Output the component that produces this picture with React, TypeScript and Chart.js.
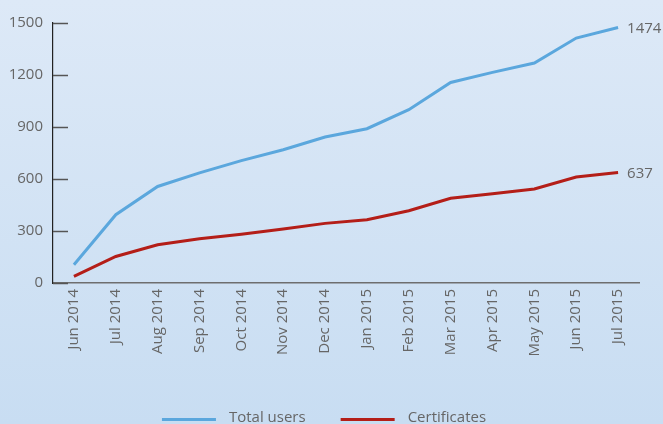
import React, { useEffect, useRef } from "react";
import { Chart, registerables } from "chart.js";

Chart.register(...registerables);

const categories = [
  "Jun 2014", "Jul 2014", "Aug 2014", "Sep 2014", "Oct 2014", "Nov 2014", "Dec 2014",
  "Jan 2015", "Feb 2015", "Mar 2015", "Apr 2015", "May 2015", "Jun 2015", "Jul 2015",
];
const totalUsers = [105, 394, 557, 635, 706, 769, 842, 890, 1000, 1157, 1215, 1269, 1413, 1474];
const certificates = [38, 153, 221, 255, 281, 311, 344, 365, 417, 489, 515, 542, 611, 637];
const seriesNames = ["Total users", "Certificates"];
const yTicks = [0, 300, 600, 900, 1200, 1500];

const FONT = "'Open Sans', 'Noto Sans', sans-serif";
const TEXT = "#666666";

const bgPlugin = {
  id: "bgGradient",
  beforeDraw(chart: any) {
    const { ctx, width, height } = chart;
    const g = ctx.createLinearGradient(0, 0, 0, height);
    g.addColorStop(0, "#dde9f7");
    g.addColorStop(1, "#c8ddf2");
    ctx.save();
    ctx.fillStyle = g;
    ctx.fillRect(0, 0, width, height);
    ctx.restore();
  },
};

const innerTicksPlugin = {
  id: "innerTicks",
  afterDraw(chart: any) {
    const { ctx, chartArea } = chart;
    const y = chart.scales.y;
    ctx.save();
    ctx.strokeStyle = "#555555";
    ctx.lineWidth = 1.5;
    y.ticks.forEach((t: any) => {
      const py = Math.round(y.getPixelForValue(t.value)) + 0.5;
      ctx.beginPath();
      ctx.moveTo(chartArea.left, py);
      ctx.lineTo(chartArea.left + 15, py);
      ctx.stroke();
    });
    ctx.restore();
  },
};

const endLabelsPlugin = {
  id: "endLabels",
  afterDatasetsDraw(chart: any) {
    const { ctx } = chart;
    ctx.save();
    ctx.font = `15px ${FONT}`;
    ctx.fillStyle = TEXT;
    ctx.textAlign = "left";
    ctx.textBaseline = "middle";
    chart.data.datasets.forEach((ds: any, i: number) => {
      const meta = chart.getDatasetMeta(i);
      const last = meta.data[meta.data.length - 1];
      const val = ds.data[ds.data.length - 1];
      ctx.fillText(String(val), last.x + 9, last.y + 1);
    });
    ctx.restore();
  },
};

const bottomLegendPlugin = {
  id: "bottomLegend",
  afterDraw(chart: any) {
    const { ctx } = chart;
    ctx.save();
    ctx.font = `15px ${FONT}`;
    const lineW = 54;
    const gap = 13;
    const itemGap = 35;
    const items = chart.data.datasets.map((ds: any) => ({
      label: ds.label,
      color: ds.borderColor,
      w: lineW + gap + ctx.measureText(ds.label).width,
    }));
    const total = items.reduce((a: number, b: any) => a + b.w, 0) + itemGap * (items.length - 1);
    let x = 324 - total / 2;
    const ly = 419.5;
    items.forEach((it: any) => {
      ctx.fillStyle = it.color;
      ctx.fillRect(x, ly - 1.5, lineW, 3);
      ctx.fillStyle = TEXT;
      ctx.textAlign = "left";
      ctx.textBaseline = "alphabetic";
      ctx.fillText(it.label, x + lineW + gap, 422);
      x += it.w + itemGap;
    });
    ctx.restore();
  },
};

export default function App() {
  const ref = useRef<HTMLCanvasElement | null>(null);
  useEffect(() => {
    document.body.style.margin = "0";
    const c = ref.current;
    if (!c) return;
    const chart = new Chart(c, {
      type: "line",
      data: {
        labels: categories,
        datasets: [
          {
            label: seriesNames[0],
            data: totalUsers,
            borderColor: "#5ba7dd",
            backgroundColor: "#5ba7dd",
            borderWidth: 3,
            pointRadius: 0,
            tension: 0,
          },
          {
            label: seriesNames[1],
            data: certificates,
            borderColor: "#b41e18",
            backgroundColor: "#b41e18",
            borderWidth: 3,
            pointRadius: 0,
            tension: 0,
          },
        ],
      },
      options: {
        animation: false,
        responsive: true,
        maintainAspectRatio: false,
        layout: { padding: { top: 23, right: 24, left: 0, bottom: 0 } },
        plugins: {
          legend: { display: false },
          tooltip: { enabled: false },
        },
        scales: {
          x: {
            type: "category",
            offset: true,
            grid: { display: false, drawTicks: false },
            border: { display: true, color: "#6e6e6e", width: 1.5 },
            ticks: {
              autoSkip: false,
              minRotation: 90,
              maxRotation: 90,
              padding: 6,
              color: TEXT,
              font: { family: FONT, size: 15 },
            },
            afterFit(s: any) {
              s.height = 141;
            },
          },
          y: {
            min: 0,
            max: 1500,
            afterBuildTicks(s: any) {
              s.ticks = yTicks.map((v) => ({ value: v }));
            },
            grid: { display: false, drawTicks: false },
            border: { display: true, color: "#222222", width: 1.2 },
            ticks: {
              padding: 10,
              color: TEXT,
              font: { family: FONT, size: 15 },
              callback: (v: any) => String(v),
            },
            afterFit(s: any) {
              s.width = 53;
            },
          },
        },
      },
      plugins: [bgPlugin, innerTicksPlugin, endLabelsPlugin, bottomLegendPlugin],
    });
    return () => chart.destroy();
  }, []);
  return (
    <div style={{ width: 663, height: 424, position: "relative" }}>
      <canvas ref={ref} />
    </div>
  );
}
